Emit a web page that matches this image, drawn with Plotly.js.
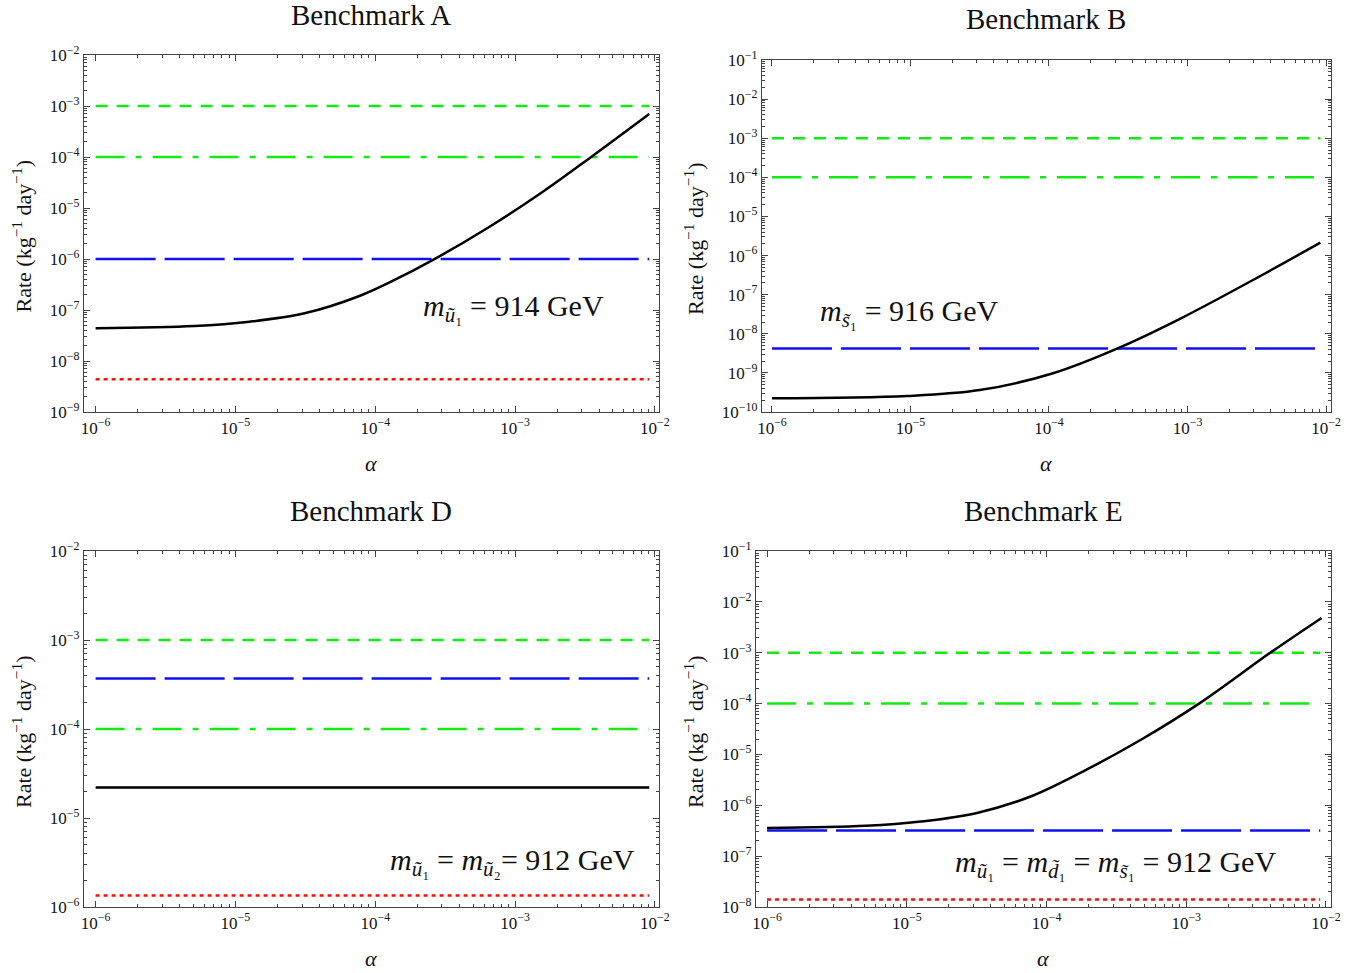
<!DOCTYPE html>
<html>
<head>
<meta charset="utf-8">
<script src="https://cdn.plot.ly/plotly-3.0.1.min.js"></script>
<style>html,body{margin:0;padding:0;background:#fff;}#chart{width:1364px;height:973px;}</style>
</head>
<body>
<div id="chart"></div>
<script>
// ---------- data ----------
const lineAlpha = [1e-6, 9.1e-3];               // extent of the horizontal reference lines

// Benchmark A
const alphaA = [1e-6, 5.1e-6, 1.26e-5, 3.12e-5, 7.7e-5, 1.42e-4, 2.57e-4, 6.35e-4, 1.57e-3, 3.58e-3, 9.1e-3];
const rateA  = [4.38e-8, 4.85e-8, 5.9e-8, 8.6e-8, 1.88e-7, 4.06e-7, 9.5e-7, 4.06e-6, 2.06e-5, 1.05e-4, 6.97e-4];
const refA = {dash: 1e-3, dashdot: 1e-4, blue: 1e-6, red: 4.4e-9};

// Benchmark B
const alphaB = [1e-6, 9.5e-6, 3.16e-5, 1.07e-4, 3.16e-4, 8.9e-4, 2.95e-3, 9.1e-3];
const rateB  = [2.24e-10, 2.57e-10, 3.63e-10, 9.8e-10, 4.3e-9, 2.45e-8, 2.34e-7, 2.14e-6];
const refB = {dash: 1e-3, dashdot: 1e-4, blue: 4.2e-9};

// Benchmark D
const rateD = 2.2e-5;
const refD = {dash: 1e-3, dashdot: 1e-4, blue: 3.7e-4, red: 1.35e-6};

// Benchmark E
const alphaE = [1e-6, 5.1e-6, 1.26e-5, 3.13e-5, 7.7e-5, 1.92e-4, 4.74e-4, 1.25e-3, 4.1e-3, 9.3e-3];
const rateE  = [3.56e-7, 3.95e-7, 4.8e-7, 7.0e-7, 1.49e-6, 4.98e-6, 1.94e-5, 1.02e-4, 1.05e-3, 4.83e-3];
const refE = {dash: 1e-3, dashdot: 1e-4, blue: 3.2e-7, red: 1.4e-8};

const titles = ["Benchmark A", "Benchmark B", "Benchmark D", "Benchmark E"];
const massLabels = [
  "<i>m</i><sub><i>ũ</i>₁</sub> = 914 GeV",
  "<i>m</i><sub><i>s̃</i>₁</sub> = 916 GeV",
  "<i>m</i><sub><i>ũ</i>₁</sub> = <i>m</i><sub><i>ũ</i>₂</sub>= 912 GeV",
  "<i>m</i><sub><i>ũ</i>₁</sub> = <i>m</i><sub><i>d̃</i>₁</sub> = <i>m</i><sub><i>s̃</i>₁</sub> = 912 GeV"
];
const xDecades = [-6, -5, -4, -3, -2];
const yDecadesA = [-9, -8, -7, -6, -5, -4, -3, -2];
const yDecadesB = [-10, -9, -8, -7, -6, -5, -4, -3, -2, -1];
const yDecadesD = [-6, -5, -4, -3, -2];
const yDecadesE = [-8, -7, -6, -5, -4, -3, -2, -1];

// ---------- styling ----------
const W = 1364, H = 973;
const SERIF = "Liberation Serif, Times New Roman, serif";
const GREEN = "#12ea12", BLUE = "#1010f0", RED = "#f01010";
const styles = {
  dash:    {color: GREEN, width: 2.5, dash: "12px,9px"},
  dashdot: {color: GREEN, width: 2.5, dash: "29px,11px,6px,11px"},
  blue:    {color: BLUE,  width: 2.5, dash: "60px,9px"},
  red:     {color: RED,   width: 2.5, dash: "4px,4px"},
  black:   {color: "#000", width: 2.5}
};

// panel geometry in pixels [left, right, top, bottom] and axis ranges (log10)
const panels = [
  {px: [84, 659, 55, 412],  xr: [-6.083, -1.971], yd: yDecadesA, ylab: 22},
  {px: [762, 1331, 60, 412], xr: [-6.072, -1.964], yd: yDecadesB, ylab: 694},
  {px: [84, 659, 551, 907], xr: [-6.083, -1.971], yd: yDecadesD, ylab: 22},
  {px: [756, 1331, 551, 907], xr: [-6.079, -1.964], yd: yDecadesE, ylab: 694}
];

function sup(n) { return "10<sup>−" + Math.abs(n) + "</sup>"; }
function minorVals(decs) {
  const v = [];
  for (let i = 0; i < decs.length - 1; i++)
    for (let m = 2; m <= 9; m++) v.push(m * Math.pow(10, decs[i]));
  return v;
}
function axisDef(decs, range, domain, anchor) {
  return {
    type: "log", range: range, domain: domain, anchor: anchor,
    showgrid: false, zeroline: false, showline: true, linecolor: "#444", linewidth: 1.2,
    mirror: "ticks", ticks: "inside", ticklen: 6, tickwidth: 1, tickcolor: "#444",
    tickmode: "array", tickvals: decs.map(d => Math.pow(10, d)), ticktext: decs.map(sup),
    tickfont: {family: SERIF, size: 17, color: "#111"},
    minor: {tickmode: "array", tickvals: minorVals(decs), ticks: "inside", ticklen: 3, tickwidth: 1, tickcolor: "#444"}
  };
}

const traces = [];
const layout = {
  width: W, height: H, margin: {l: 0, r: 0, t: 0, b: 0},
  paper_bgcolor: "#fff", plot_bgcolor: "#fff", showlegend: false,
  annotations: []
};

function hline(k, y, style) {
  traces.push({x: lineAlpha, y: [y, y], mode: "lines", line: styles[style],
               xaxis: "x" + (k + 1), yaxis: "y" + (k + 1), hoverinfo: "skip"});
}
function curve(k, xs, ys) {
  traces.push({x: xs, y: ys, mode: "lines", line: Object.assign({shape: "spline", smoothing: 1}, styles.black),
               xaxis: "x" + (k + 1), yaxis: "y" + (k + 1), hoverinfo: "skip"});
}

// Panel A
hline(0, refA.dash, "dash"); hline(0, refA.dashdot, "dashdot"); hline(0, refA.blue, "blue"); hline(0, refA.red, "red");
curve(0, alphaA, rateA);
// Panel B
hline(1, refB.dash, "dash"); hline(1, refB.dashdot, "dashdot"); hline(1, refB.blue, "blue");
curve(1, alphaB, rateB);
// Panel D
hline(2, refD.dash, "dash"); hline(2, refD.blue, "blue"); hline(2, refD.dashdot, "dashdot"); hline(2, refD.red, "red");
hline(2, rateD, "black");
// Panel E
hline(3, refE.dash, "dash"); hline(3, refE.dashdot, "dashdot"); hline(3, refE.blue, "blue"); hline(3, refE.red, "red");
curve(3, alphaE, rateE);

const massPos = [[513, 308], [909, 313], [512, 862], [1115, 864]];
const titlePos = [[371, 15], [1046, 19], [371, 511], [1043, 511]];

panels.forEach((p, k) => {
  const [l, r, t, b] = p.px;
  const xd = [l / W, r / W], yd = [1 - b / H, 1 - t / H];
  const yr = [p.yd[0], p.yd[p.yd.length - 1]];
  layout["xaxis" + (k + 1)] = axisDef(xDecades, p.xr, xd, "y" + (k + 1));
  layout["yaxis" + (k + 1)] = axisDef(p.yd, yr, yd, "x" + (k + 1));
  const cx = (l + r) / 2;
  layout.annotations.push({text: titles[k], x: titlePos[k][0] / W, y: 1 - titlePos[k][1] / H,
    xref: "paper", yref: "paper", showarrow: false, xanchor: "center", yanchor: "middle",
    font: {family: SERIF, size: 29, color: "#111"}});
  layout.annotations.push({text: "<i>α</i>", x: (cx - 1) / W, y: 1 - (b + 51) / H,
    xref: "paper", yref: "paper", showarrow: false, xanchor: "center", yanchor: "middle",
    font: {family: SERIF, size: 22, color: "#111"}});
  layout.annotations.push({text: "Rate (kg<sup>−1</sup> day<sup>−1</sup>)", x: p.ylab / W, y: 1 - ((t + b) / 2 + 3) / H,
    xref: "paper", yref: "paper", showarrow: false, xanchor: "center", yanchor: "middle", textangle: -90,
    font: {family: SERIF, size: 22, color: "#111"}});
  layout.annotations.push({text: massLabels[k], x: massPos[k][0] / W, y: 1 - massPos[k][1] / H,
    xref: "paper", yref: "paper", showarrow: false, xanchor: "center", yanchor: "middle",
    font: {family: SERIF, size: 30, color: "#111"}});
});

Plotly.newPlot("chart", traces, layout, {displayModeBar: false, staticPlot: true});
</script>
</body>
</html>
